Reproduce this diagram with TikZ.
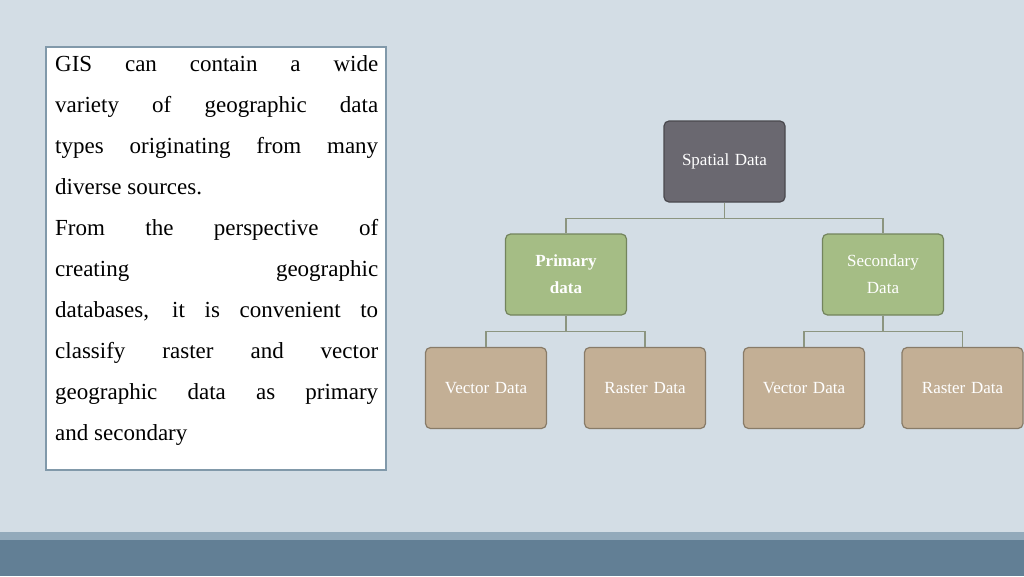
\documentclass[tikz,border=0pt]{standalone}
\usepackage{fontspec}
\setmainfont{Liberation Serif}
\definecolor{bg}{HTML}{D3DDE5}
\definecolor{bar}{HTML}{627F95}
\definecolor{barl}{HTML}{93AABB}
\definecolor{dk}{HTML}{6A6870}
\definecolor{gr}{HTML}{A5BD85}
\definecolor{tn}{HTML}{C3AF95}
\definecolor{ln}{HTML}{8C9580}
\tikzset{x=1pt,y=-1pt,
 box/.style={draw=#1!70!black,line width=1.2pt,rounded corners=5pt,minimum width=121pt,minimum height=81pt,inner sep=2pt,align=center,text=white,font=\fontsize{17}{27}\selectfont,text width=116pt},
 conn/.style={draw=ln,line width=1.5pt}}
\newcommand{\jl}[1]{\makebox[323pt][s]{#1}\\}
\begin{document}
\begin{tikzpicture}
\fill[bg] (0,0) rectangle (1024,576);
\useasboundingbox (0,0) rectangle (1024,576);
\fill[barl] (0,532) rectangle (1024,540);
\fill[bar] (0,540) rectangle (1024,576);
\node[draw=bar!80!white,line width=1.5pt,fill=white,minimum width=340pt,minimum height=423pt,anchor=north west] (tb) at (45,46) {};
\node[anchor=north west,inner sep=0pt,align=left,font=\fontsize{23}{41}\selectfont] (tx) at (55,55) {%
\jl{GIS can contain a wide}\jl{variety of geographic data}\jl{types originating from many}diverse sources.\\
\jl{From the perspective of}\jl{creating geographic}\jl{databases, it is convenient to}\jl{classify raster and vector}\jl{geographic data as primary}and secondary};
\node[box=dk,fill=dk] (sp) at (724.5,161.5) {Spatial Data};
\node[box=gr,fill=gr,font=\fontsize{17}{27}\selectfont\bfseries] (pr) at (566,274.5) {Primary\\data};
\node[box=gr,fill=gr] (se) at (883,274.5) {Secondary\\Data};
\node[box=tn,fill=tn] (v1) at (486,388) {Vector Data};
\node[box=tn,fill=tn] (r1) at (645,388) {Raster Data};
\node[box=tn,fill=tn] (v2) at (804,388) {Vector Data};
\node[box=tn,fill=tn] (r2) at (962.5,388) {Raster Data};
\draw[conn] (sp.south) -- ++(0,16) -| (pr.north);
\draw[conn] (sp.south) ++(0,16) -| (se.north);
\draw[conn] (pr.south) -- ++(0,16) -| (v1.north);
\draw[conn] (pr.south) ++(0,16) -| (r1.north);
\draw[conn] (se.south) -- ++(0,16) -| (v2.north);
\draw[conn] (se.south) ++(0,16) -| (r2.north);
\end{tikzpicture}
\end{document}
